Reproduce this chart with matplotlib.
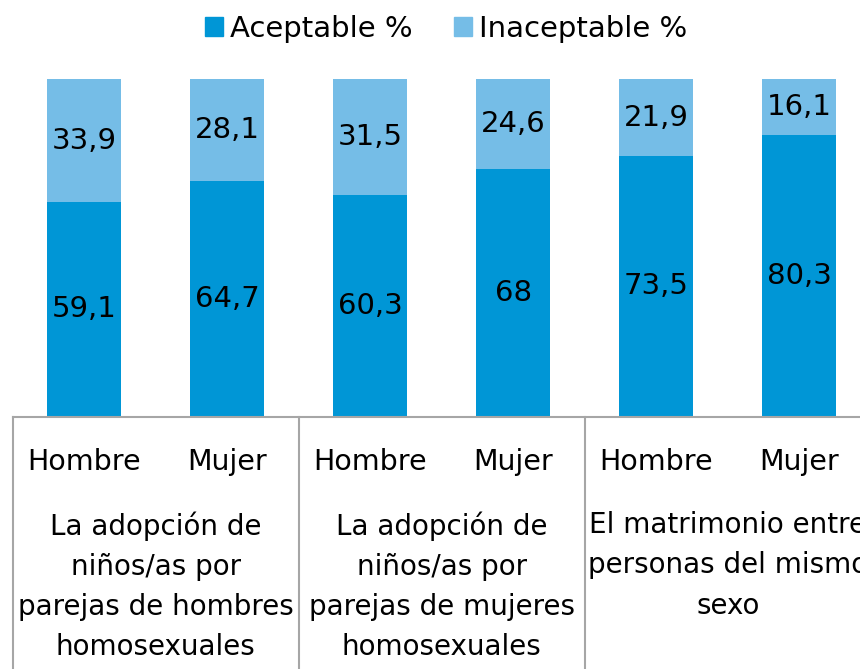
import matplotlib.pyplot as plt
from matplotlib.patches import Patch

plt.rcParams['font.family'] = ['DejaVu Sans']

# Datos
sexo = ['Hombre', 'Mujer', 'Hombre', 'Mujer', 'Hombre', 'Mujer']
grupos = ['La adopción de\nniños/as por\nparejas de hombres\nhomosexuales',
          'La adopción de\nniños/as por\nparejas de mujeres\nhomosexuales',
          'El matrimonio entre\npersonas del mismo\nsexo']
aceptable = [59.1, 64.7, 60.3, 68, 73.5, 80.3]
inaceptable = [33.9, 28.1, 31.5, 24.6, 21.9, 16.1]
etiq_acept = ['59,1', '64,7', '60,3', '68', '73,5', '80,3']
etiq_inacept = ['33,9', '28,1', '31,5', '24,6', '21,9', '16,1']

c_acept = '#0096D6'
c_inacept = '#75BDE7'
c_linea = '#A6A6A6'

fig = plt.figure(figsize=(8.6, 6.69), dpi=100)
ax = fig.add_axes([12.7 / 860, (669 - 416.5) / 669, 858 / 860, 337.5 / 669])

# barras 100% apiladas
x = list(range(len(sexo)))
total = [a + b for a, b in zip(aceptable, inaceptable)]
fa = [a / t for a, t in zip(aceptable, total)]
fi = [b / t for b, t in zip(inaceptable, total)]
ax.bar(x, fa, width=0.52, color=c_acept, label='Aceptable %')
ax.bar(x, fi, width=0.52, bottom=fa, color=c_inacept, label='Inaceptable %')

for i in x:
    ax.text(i, fa[i] / 2, etiq_acept[i], ha='center', va='center', fontsize=21)
    ax.text(i, fa[i] + fi[i] / 2, etiq_inacept[i], ha='center', va='center', fontsize=21)

ax.set_xlim(-0.5, 5.5)
ax.set_ylim(0, 1)
ax.set_yticks([])
ax.set_xticks([])
for s in ['top', 'right', 'left']:
    ax.spines[s].set_visible(False)
ax.spines['bottom'].set_color(c_linea)
ax.spines['bottom'].set_linewidth(1.5)

# eje de categorías de dos niveles
tr = ax.get_xaxis_transform()
for i in x:
    ax.text(i, -0.135, sexo[i], ha='center', va='center', fontsize=20.5, transform=tr)
for g, nombre in enumerate(grupos):
    ax.text(2 * g + 0.5, -0.281, nombre, ha='center', va='top', fontsize=20,
            linespacing=1.55, transform=tr, clip_on=False)
for xs in [-0.5, 1.5, 3.5, 5.5]:
    ax.plot([xs, xs], [0, -0.8], color=c_linea, lw=1.5, transform=tr, clip_on=False)

leg = [Patch(color=c_acept, label='Aceptable %'), Patch(color=c_inacept, label='Inaceptable %')]
fig.legend(handles=leg, loc='center', bbox_to_anchor=(0.519, 1 - 29 / 669), ncol=2, frameon=False,
           fontsize=21, handlelength=0.62, handleheight=0.62, handletextpad=0.24, columnspacing=1.4)

fig.savefig('out.png', dpi=100)
